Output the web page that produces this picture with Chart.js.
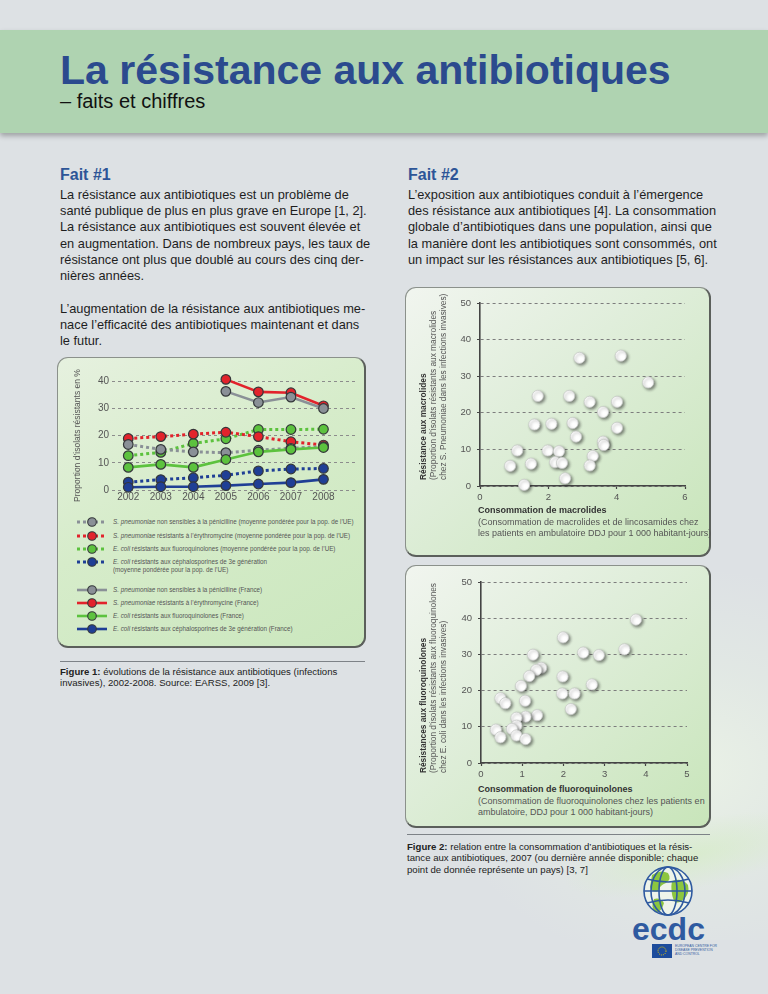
<!DOCTYPE html>
<html lang="fr"><head><meta charset="utf-8">
<title>La résistance aux antibiotiques – faits et chiffres</title>
<script src="https://cdn.jsdelivr.net/npm/chart.js@4.4.1/dist/chart.umd.min.js"></script>
<style>
*{box-sizing:border-box}
html,body{margin:0;padding:0}
body{width:768px;height:994px;position:relative;overflow:hidden;background:#dde1e4;font-family:"Liberation Sans",Arial,Helvetica,sans-serif;color:#222}
.a{position:absolute}
#swoosh{left:430px;top:560px;width:480px;height:380px;background:radial-gradient(ellipse at 55% 55%,rgba(234,242,230,.95) 0%,rgba(228,236,228,.6) 35%,rgba(221,225,228,0) 68%)}
#swoosh2{left:560px;top:820px;width:260px;height:70px;border-radius:50%;background:radial-gradient(ellipse at 50% 50%,rgba(214,236,200,.8) 0%,rgba(221,225,228,0) 70%);transform:rotate(-12deg)}
#band{left:0;top:30px;width:768px;height:103px;background:#afd3b1;box-shadow:0 3px 5px rgba(0,0,0,.28)}
#title{left:60px;top:50px;font-size:41px;line-height:1;font-weight:bold;color:#2b4a8e;white-space:nowrap}
#sub{left:60px;top:91px;font-size:20px;line-height:1;color:#111;white-space:nowrap}
.h{font-size:16px;line-height:18px;font-weight:bold;color:#2d5597;white-space:nowrap}
.p{font-size:12.8px;line-height:16.3px;color:#1e1e1e;white-space:nowrap}
.panel{border-radius:11px;border:1px solid #8b918b;border-right:2px solid #5b5f5b;border-bottom:2px solid #5b5f5b}
#p1{left:57px;top:357px;width:309px;height:291px;background:linear-gradient(150deg,#e6f1df 0%,#d6ecca 45%,#cbe7be 100%)}
#p2{left:405px;top:287px;width:306px;height:270px;background:linear-gradient(140deg,#f1f5ef 0%,#e0eedb 40%,#c8e5ba 100%)}
#p3{left:405px;top:565px;width:306px;height:263px;background:linear-gradient(140deg,#f1f5ef 0%,#e0eedb 40%,#c8e5ba 100%)}
canvas{position:absolute}
.rule{height:0;border-top:1.5px solid #7d8287}
.cap{font-size:9.6px;line-height:11.3px;color:#222;white-space:nowrap}
.rt{position:absolute;transform:rotate(-90deg);transform-origin:0 0;font-size:8.3px;line-height:10px;color:#555;white-space:nowrap}
.rt b{color:#333}
.xt{position:absolute;font-size:9px;line-height:11.5px;color:#555;white-space:nowrap}
.xt b{color:#333}
.lg{position:absolute;left:76px;height:12px}
.lg svg{position:absolute;left:0;top:0}
.lg span{position:absolute;left:37px;top:2.1px;font-size:7.4px;line-height:7.8px;color:#555;white-space:nowrap;transform:scaleX(.85);transform-origin:0 0}
</style></head>
<body>
<div id="swoosh" class="a"></div>
<div id="swoosh2" class="a"></div>
<div id="band" class="a"></div>
<div id="title" class="a">La résistance aux antibiotiques</div>
<div id="sub" class="a">– faits et chiffres</div>

<div class="a h" style="left:60px;top:165.7px">Fait #1</div>
<div class="a p" style="left:60px;top:186.7px">La résistance aux antibiotiques est un problème de<br>santé publique de plus en plus grave en Europe [1, 2].<br>La résistance aux antibiotiques est souvent élevée et<br>en augmentation. Dans de nombreux pays, les taux de<br>résistance ont plus que doublé au cours des cinq der-<br>nières années.<br><br>L’augmentation de la résistance aux antibiotiques me-<br>nace l’efficacité des antibiotiques maintenant et dans<br>le futur.</div>

<div class="a h" style="left:408px;top:165.7px">Fait #2</div>
<div class="a p" style="left:408px;top:186.7px">L’exposition aux antibiotiques conduit à l’émergence<br>des résistance aux antibiotiques [4]. La consommation<br>globale d’antibiotiques dans une population, ainsi que<br>la manière dont les antibiotiques sont consommés, ont<br>un impact sur les résistances aux antibiotiques [5, 6].</div>

<div id="p1" class="a panel"></div>
<div id="p2" class="a panel"></div>
<div id="p3" class="a panel"></div>

<canvas id="c1" width="300" height="150" style="left:62px;top:365px"></canvas>
<div id="legend"></div>

<div class="a rule" style="left:60px;top:660.5px;width:305px"></div>
<div class="a cap" style="left:60px;top:666px"><b>Figure 1:</b> évolutions de la résistance aux antibiotiques (infections<br>invasives), 2002-2008. Source: EARSS, 2009 [3].</div>

<canvas id="c2" width="306" height="216" style="left:405px;top:290px"></canvas>
<div class="rt" style="left:418px;top:480px"><b>Résistance aux macrolides</b><br>(Proportion d’isolats résistants aux macrolides<br>chez S. Pneumoniae dans les infections invasives)</div>
<div class="xt" style="left:478px;top:505px"><b>Consommation de macrolides</b><br>(Consommation de macrolides et de lincosamides chez<br>les patients en ambulatoire DDJ pour 1 000 habitant-jours)</div>

<canvas id="c3" width="306" height="215" style="left:405px;top:568px"></canvas>
<div class="rt" style="left:418px;top:773px"><b>Résistances aux fluoroquinolones</b><br>(Proportion d’isolats résistants aux fluoroquinolones<br>chez E. coli dans les infections invasives)</div>
<div class="xt" style="left:478px;top:784px"><b>Consommation de fluoroquinolones</b><br>(Consommation de fluoroquinolones chez les patients en<br>ambulatoire, DDJ pour 1 000 habitant-jours)</div>

<div class="a rule" style="left:407px;top:834px;width:303px"></div>
<div class="a cap" style="left:407px;top:841px"><b>Figure 2:</b> relation entre la consommation d’antibiotiques et la résis-<br>tance aux antibiotiques, 2007 (ou dernière année disponible; chaque<br>point de donnée représente un pays) [3, 7]</div>

<svg class="a" style="left:620px;top:862px" width="100" height="100" viewBox="0 0 100 100">
  <defs><clipPath id="gl"><circle cx="48" cy="29" r="24"/></clipPath></defs>
  <circle cx="48" cy="29" r="24" fill="#eef4ea"/>
  <g clip-path="url(#gl)" fill="#8cc63f">
    <path d="M32 13 q8 -6 16 -2 q4 6 -2 10 q-6 2 -8 8 q-6 2 -8 -4 z"/>
    <path d="M52 19 q10 -4 16 4 q2 8 -4 14 q-6 6 -10 2 q-4 -10 -2 -20 z"/>
    <path d="M34 37 q6 -2 10 4 q-2 8 -8 10 q-6 -6 -2 -14 z"/>
  </g>
  <g fill="none" stroke="#2f5aa0" stroke-width="1.6">
    <circle cx="48" cy="29" r="24"/>
    <ellipse cx="48" cy="29" rx="9" ry="24"/>
    <ellipse cx="48" cy="29" rx="17" ry="24"/>
    <line x1="24" y1="29" x2="72" y2="29"/>
    <path d="M27 17 q21 6 42 0 M27 41 q21 -6 42 0"/>
  </g>
  <text x="12" y="78" font-family="Liberation Sans, Arial" font-weight="bold" font-size="32" fill="#2f5aa0">ecdc</text>
  <rect x="32" y="82" width="20" height="14" fill="#1d4c9c"/>
  <circle cx="42" cy="89" r="4" fill="none" stroke="#f5d000" stroke-width="1" stroke-dasharray="1 1.1"/>
  <text x="55" y="85" font-family="Liberation Sans, Arial" font-size="3.4" fill="#2f5aa0">EUROPEAN CENTRE FOR</text>
  <text x="55" y="89" font-family="Liberation Sans, Arial" font-size="3.4" fill="#2f5aa0">DISEASE PREVENTION</text>
  <text x="55" y="93" font-family="Liberation Sans, Arial" font-size="3.4" fill="#2f5aa0">AND CONTROL</text>
</svg>

<script>
// ---------------- DATA ----------------
const years = [2002, 2003, 2004, 2005, 2006, 2007, 2008];
// EU population-weighted means (dotted)
const euPenicillin   = [16.7, 14.9, 14.0, 13.7, 14.6, 15.3, 15.9];
const euErythro      = [18.9, 19.6, 20.5, 21.2, 19.6, 17.7, 16.5];
const euFluoro       = [12.6, 13.8, 17.1, 18.8, 22.2, 22.2, 22.3];
const euCeph3        = [2.9, 3.8, 4.5, 5.4, 7.0, 7.7, 7.9];
// France (solid)
const frPenicillin   = [null, null, null, 36.2, 32.1, 34.1, 29.9];
const frErythro      = [null, null, null, 40.6, 36.0, 35.7, 30.9];
const frFluoro       = [8.3, 9.4, 8.3, 11.2, 14.0, 14.9, 15.6];
const frCeph3        = [1.0, 1.2, 1.2, 1.6, 2.2, 2.7, 3.9];
const lineTicksY     = [0, 10, 20, 30, 40];

const seriesNames = [
  ["S. pneumoniae", " non sensibles à la pénicilline (moyenne pondérée pour la pop. de l’UE)"],
  ["S. pneumoniae", " résistants à l’érythromycine (moyenne pondérée pour la pop. de l’UE)"],
  ["E. coli", " résistants aux fluoroquinolones (moyenne pondérée pour la pop. de l’UE)"],
  ["E. coli", " résistants aux céphalosporines de 3e génération", "(moyenne pondérée pour la pop. de l’UE)"],
  ["S. pneumoniae", " non sensibles à la pénicilline (France)"],
  ["S. pneumoniae", " résistants à l’érythromycine (France)"],
  ["E. coli", " résistants aux fluoroquinolones (France)"],
  ["E. coli", " résistants aux céphalosporines de 3e génération (France)"]
];

// Macrolides: consumption (DDD per 1000 inhabitant-days) vs resistance (%)
const macroUse = [2.91, 4.12, 4.92, 1.69, 2.61, 3.21, 4.01, 3.60, 4.01, 1.59, 2.09, 2.71, 2.81, 3.60, 3.62, 1.09, 1.98, 2.31, 3.30, 0.88, 1.49, 2.20, 2.40, 3.21, 1.29, 2.49];
const macroRes = [35.0, 35.6, 28.3, 24.6, 24.6, 23.0, 23.0, 20.2, 15.9, 16.8, 17.0, 17.2, 13.5, 12.1, 11.2, 9.7, 9.7, 9.5, 8.2, 5.5, 6.1, 6.5, 6.3, 5.6, 0.3, 2.1];
const macroTicksX = [0, 2, 4, 6];
// Fluoroquinolones
const fqUse = [3.76, 1.99, 2.48, 2.86, 3.48, 1.26, 1.46, 1.34, 1.17, 1.98, 0.97, 2.69, 1.97, 2.27, 0.47, 0.59, 1.07, 2.18, 1.36, 1.08, 0.86, 0.86, 0.75, 0.36, 0.47, 0.86, 1.08];
const fqRes = [39.6, 34.7, 30.5, 29.8, 31.4, 29.9, 26.3, 25.7, 24.0, 23.9, 21.3, 21.7, 19.2, 19.2, 17.9, 16.5, 17.2, 14.9, 13.2, 12.8, 12.5, 10.3, 9.4, 9.2, 7.1, 7.6, 6.6];
const fqTicksX = [0, 1, 2, 3, 4, 5];
const scatterTicksY = [0, 10, 20, 30, 40, 50];

// ---------------- STYLES ----------------
const FONT = '"Liberation Sans", Arial, sans-serif';
Chart.defaults.font.family = FONT;
const GREY = '#8a9097', RED = '#e2232c', GREEN = '#5cc23e', BLUE = '#1f3f95';
const DOT = [3, 3];
const lineSeries = [
  {values: frPenicillin, color: GREY,  dash: [], name: seriesNames[4]},
  {values: frErythro,    color: RED,   dash: [], name: seriesNames[5]},
  {values: frFluoro,     color: GREEN, dash: [], name: seriesNames[6]},
  {values: frCeph3,      color: BLUE,  dash: [], name: seriesNames[7]},
  {values: euPenicillin, color: GREY,  dash: DOT, name: seriesNames[0]},
  {values: euErythro,    color: RED,   dash: DOT, name: seriesNames[1]},
  {values: euFluoro,     color: GREEN, dash: DOT, name: seriesNames[2]},
  {values: euCeph3,      color: BLUE,  dash: DOT, name: seriesNames[3]}
];

function pairs(xs, ys) {
  const out = [];
  for (let i = 0; i < xs.length; i++) if (ys[i] !== null) out.push({x: xs[i], y: ys[i]});
  return out;
}
function setTicks(list) { return scale => { scale.ticks = list.map(v => ({value: v})); }; }

// ---------------- CHART 1 ----------------
new Chart(document.getElementById('c1'), {
  type: 'line',
  data: {
    datasets: lineSeries.map(s => ({
      label: s.name.join(''),
      data: pairs(years, s.values),
      borderColor: s.color,
      backgroundColor: s.color,
      borderWidth: s.dash.length ? 3 : 2.6,
      borderDash: s.dash,
      borderCapStyle: 'butt',
      pointRadius: 4.8,
      pointBackgroundColor: s.color,
      pointBorderColor: '#34373a',
      pointBorderWidth: 1.2,
      tension: 0,
      fill: false,
      clip: false
    }))
  },
  options: {
    responsive: false, animation: false,
    layout: {padding: {top: 16, left: 11, right: 2, bottom: 0}},
    plugins: {legend: {display: false}, tooltip: {enabled: false}},
    scales: {
      x: {
        type: 'linear', min: 2001.5, max: 2009,
        afterBuildTicks: setTicks(years),
        afterFit: s => { s.height = 25; },
        grid: {display: false, drawTicks: false},
        border: {display: false},
        ticks: {callback: v => String(v), color: '#555', font: {size: 10}, padding: 1, maxRotation: 0, autoSkip: false}
      },
      y: {
        min: 0, max: 40,
        afterBuildTicks: setTicks(lineTicksY),
        afterFit: s => { s.width = 39; },
        grid: {color: '#8c8c8c', lineWidth: 1, drawTicks: false},
        border: {display: false, dash: [3, 3]},
        ticks: {color: '#555', font: {size: 10}, padding: 3},
        title: {display: true, text: 'Proportion d’isolats résistants en %', color: '#555', font: {size: 8.5}, padding: {top: 0, bottom: 0}}
      }
    }
  }
});

// legend (HTML, symbols mirror the dataset styles)
const legendCenters = [521.5, 535.5, 549, 562, 590, 603.3, 616, 629];
const legendOrder = [4, 5, 6, 7, 0, 1, 2, 3];
const lg = document.getElementById('legend');
legendOrder.forEach((idx, k) => {
  const s = lineSeries[idx];
  const d = document.createElement('div');
  d.className = 'lg';
  d.style.top = (legendCenters[k] - 6) + 'px';
  const dash = s.dash.length ? 'stroke-dasharray="3 3"' : '';
  d.innerHTML = `<svg width="34" height="12" viewBox="0 0 34 12"><line x1="1" y1="6" x2="31" y2="6" stroke="${s.color}" stroke-width="${s.dash.length ? 3 : 2.6}" ${dash}/><circle cx="16" cy="6" r="4.3" fill="${s.color}" stroke="#34373a" stroke-width="1.1"/></svg>`;
  const sp = document.createElement('span');
  sp.innerHTML = `<i>${s.name[0]}</i>${s.name[1]}` + (s.name[2] ? `<br>${s.name[2]}` : '');
  d.appendChild(sp);
  lg.appendChild(d);
});

// ---------------- SCATTERS ----------------
const shadowPlugin = {
  id: 'pointShadow',
  beforeDatasetsDraw(c) { const x = c.ctx; x.save(); x.shadowColor = 'rgba(40,40,40,0.55)'; x.shadowBlur = 3; x.shadowOffsetX = 1.6; x.shadowOffsetY = 1.6; },
  afterDatasetsDraw(c) { c.ctx.restore(); }
};

function scatter(id, xs, ys, xTicks, yWidth, pad) {
  return new Chart(document.getElementById(id), {
    type: 'scatter',
    data: {datasets: [{
      data: pairs(xs, ys),
      pointRadius: 5.6,
      pointBackgroundColor: '#ffffff',
      pointBorderColor: '#c9cbc9',
      pointBorderWidth: 0.8,
      clip: false
    }]},
    plugins: [shadowPlugin],
    options: {
      responsive: false, animation: false,
      layout: {padding: pad},
      plugins: {legend: {display: false}, tooltip: {enabled: false}},
      scales: {
        x: {
          type: 'linear', min: xTicks[0], max: xTicks[xTicks.length - 1],
          afterBuildTicks: setTicks(xTicks),
          afterFit: s => { s.height = 20; },
          grid: {drawOnChartArea: false, drawTicks: true, tickLength: 3, tickColor: '#444', tickWidth: 1.2},
          border: {display: true, color: '#444', width: 1.6},
          ticks: {color: '#555', font: {size: 9.5}, padding: 3, maxRotation: 0, autoSkip: false}
        },
        y: {
          min: 0, max: 50,
          afterBuildTicks: setTicks(scatterTicksY),
          afterFit: s => { s.width = yWidth; },
          grid: {color: '#7d7d7d', lineWidth: 1, drawTicks: true, tickLength: 3, tickColor: '#444', tickWidth: 1.2},
          border: {display: true, color: '#444', width: 1.6, dash: [3, 3]},
          ticks: {color: '#555', font: {size: 9.5}, padding: 6}
        }
      }
    }
  });
}
scatter('c2', macroUse, macroRes, macroTicksX, 75, {top: 13, right: 26, left: 0, bottom: 0});
scatter('c3', fqUse, fqRes, fqTicksX, 76, {top: 14, right: 24, left: 0, bottom: 0});
</script>
</body></html>
